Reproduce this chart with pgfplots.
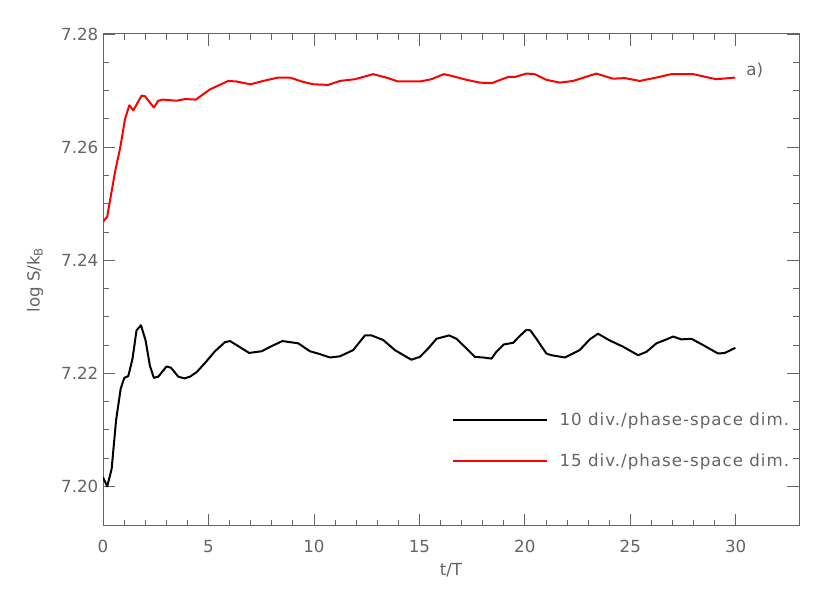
\documentclass[border=0pt]{standalone}
\usepackage{fontspec}
\setmainfont{DejaVu Sans}
\usepackage{pgfplots}
\pgfplotsset{compat=1.18}
\definecolor{idlgray}{RGB}{100,100,100}
\begin{document}
\begin{tikzpicture}
\begin{axis}[
  scale only axis, width=522pt, height=369pt,
  xmin=0, xmax=33, ymin=7.193, ymax=7.28,
  xtick={0,5,10,15,20,25,30}, minor x tick num=4,
  ytick={7.20,7.22,7.24,7.26,7.28}, minor y tick num=3,
  tick align=inside,
  major tick length=9pt, minor tick length=4.5pt,
  axis line style={draw=idlgray, line width=0.75pt},
  every tick/.style={draw=idlgray, line width=0.6pt},
  /pgf/number format/assume math mode=true,
  yticklabel style={/pgf/number format/.cd, fixed, fixed zerofill, precision=2},
  every tick label/.append style={font=\fontsize{12.5}{15}\selectfont, text=idlgray},
  xticklabel style={yshift=-7pt},
  xlabel={t/T}, ylabel={log S/k\textsubscript{B}},
  label style={font=\fontsize{12.5}{15}\selectfont, text=idlgray},
  xlabel style={at={(axis description cs:0.5,-0.0894)}, anchor=center},
  ylabel style={at={(axis description cs:-0.0977,0.5)}, anchor=center},
  legend cell align=left,
  legend style={draw=none, fill=none, at={(0.5014,0.1738)}, anchor=west, inner sep=0pt,
    font=\fontsize{12.5}{15}\selectfont\addfontfeatures{LetterSpace=6}, text=idlgray, row sep=16pt, column sep=7pt},
  legend image code/.code={\draw[#1] (0pt,0pt) -- (70pt,0pt);},
]
\addplot[black, line width=1.5pt, line join=round] coordinates {
(0,7.2016)(0.2,7.2000)(0.41,7.2031)(0.62,7.2117)(0.84,7.2173)(1.01,7.2192)(1.2,7.2195)(1.4,7.2226)(1.59,7.2276)(1.8,7.2285)(2.02,7.2258)(2.22,7.2214)(2.41,7.2192)(2.62,7.2194)(3.01,7.2212)(3.22,7.2210)(3.57,7.2194)(3.86,7.2191)(4.12,7.2194)(4.44,7.2202)(4.83,7.2218)(5.31,7.2239)(5.78,7.2255)(6.02,7.2257)(6.33,7.2250)(6.93,7.2236)(7.52,7.2239)(7.99,7.2248)(8.51,7.2257)(9.26,7.2253)(9.81,7.2239)(10.28,7.2234)(10.76,7.2228)(11.23,7.2230)(11.86,7.2241)(12.42,7.2267)(12.73,7.2267)(13.28,7.2259)(13.84,7.2241)(14.62,7.2224)(15.02,7.2229)(15.42,7.2244)(15.81,7.2261)(16.41,7.2267)(16.76,7.2261)(17.23,7.2244)(17.63,7.2229)(18.02,7.2228)(18.42,7.2226)(18.65,7.2238)(19.0,7.2251)(19.45,7.2254)(19.73,7.2265)(20.08,7.2277)(20.26,7.2276)(20.55,7.2261)(21.02,7.2235)(21.26,7.2232)(21.9,7.2228)(22.6,7.2241)(23.08,7.2260)(23.47,7.2270)(24.03,7.2258)(24.66,7.2247)(25.37,7.2232)(25.77,7.2238)(26.24,7.2253)(26.72,7.2260)(27.03,7.2265)(27.42,7.2260)(27.9,7.2261)(28.45,7.2250)(29.16,7.2235)(29.48,7.2236)(29.98,7.2245)
};
\addlegendentry{10 div./phase-space dim.}
\addplot[red, line width=1.5pt, line join=round] coordinates {
(0,7.2468)(0.2,7.2477)(0.57,7.2556)(0.81,7.2598)(0.89,7.2615)(1.04,7.2649)(1.25,7.2674)(1.44,7.2665)(1.83,7.2691)(1.99,7.2690)(2.41,7.2670)(2.62,7.2682)(2.83,7.2684)(3.49,7.2682)(3.89,7.2685)(4.4,7.2684)(5.07,7.2702)(5.94,7.2717)(6.33,7.2716)(6.99,7.2711)(7.6,7.2717)(8.31,7.2723)(8.86,7.2723)(9.42,7.2716)(9.97,7.2711)(10.68,7.2710)(11.23,7.2717)(11.94,7.2720)(12.81,7.2729)(13.52,7.2722)(13.99,7.2716)(15.02,7.2716)(15.57,7.2720)(16.16,7.2729)(16.52,7.2726)(17.23,7.2719)(17.87,7.2714)(18.42,7.2713)(19.21,7.2724)(19.53,7.2724)(20.08,7.2730)(20.47,7.2729)(21.02,7.2719)(21.66,7.2714)(22.29,7.2717)(23.39,7.2730)(24.18,7.2721)(24.74,7.2722)(25.45,7.2717)(26.24,7.2723)(26.95,7.2729)(27.98,7.2729)(29.08,7.2720)(29.98,7.2723)
};
\addlegendentry{15 div./phase-space dim.}
\node[text=idlgray, font=\fontsize{12.5}{15}\selectfont] at (axis cs:30.9,7.2736) {a)};
\coordinate (ll) at (rel axis cs:0,0);
\coordinate (ur) at (rel axis cs:1,1);
\end{axis}
\path ([shift={(-77.25pt,-50.25pt)}]ll) rectangle ([shift={(23.25pt,25.5pt)}]ur);
\end{tikzpicture}
\end{document}
